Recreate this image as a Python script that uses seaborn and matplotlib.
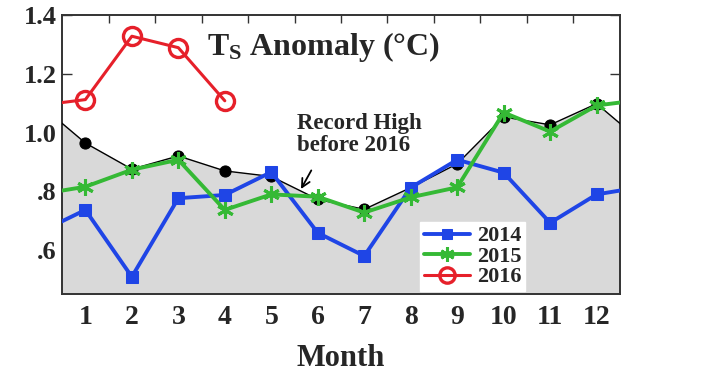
import matplotlib
matplotlib.use("Agg")
import matplotlib.pyplot as plt
import seaborn as sns
import pandas as pd
import numpy as np

# ---- data ----
months = [1, 2, 3, 4, 5, 6, 7, 8, 9, 10, 11, 12]
record_high = [0.965, 0.876, 0.921, 0.870, 0.851, 0.773, 0.739, 0.813, 0.894, 1.054, 1.027, 1.099]
ts_2014 = [0.737, 0.509, 0.777, 0.788, 0.866, 0.659, 0.580, 0.813, 0.908, 0.864, 0.693, 0.790]
ts_2015 = [0.816, 0.874, 0.908, 0.737, 0.790, 0.782, 0.728, 0.780, 0.814, 1.069, 1.004, 1.093]
ts_2016 = [1.113, 1.329, 1.290, 1.109]
dec_2013 = 0.66
ytick_vals = [0.6, 0.8, 1.0, 1.2, 1.4]
ytick_labels = [".6", ".8", "1.0", "1.2", "1.4"]

sns.set_theme(style="white")
plt.rcParams["font.family"] = ["Liberation Serif", "DejaVu Serif"]
plt.rcParams["font.weight"] = "bold"
plt.rcParams["mathtext.fontset"] = "custom"
plt.rcParams["mathtext.rm"] = "Liberation Serif:bold"
plt.rcParams["mathtext.bf"] = "Liberation Serif:bold"
plt.rcParams["mathtext.it"] = "Liberation Serif:bold"

fig = plt.figure(figsize=(7.06, 3.85), dpi=100)
ax = fig.add_axes([0.088, 0.236, 0.790, 0.724])

# extended series (previous December at x=0, next January at x=13)
x_ext = [0] + months + [13]
rec_df = pd.DataFrame({"x": x_ext, "y": [record_high[-1]] + record_high + [record_high[0]]})
d14 = pd.DataFrame({"x": x_ext, "y": [dec_2013] + ts_2014 + [ts_2015[0]]})
d15 = pd.DataFrame({"x": x_ext, "y": [ts_2014[-1]] + ts_2015 + [ts_2016[0]]})
d16 = pd.DataFrame({"x": [0] + months[:len(ts_2016)], "y": [ts_2015[-1]] + ts_2016})

ax.fill_between(rec_df["x"], rec_df["y"], 0.3, color="#d9d9d9", zorder=1)
sns.lineplot(data=rec_df, x="x", y="y", ax=ax, color="black", lw=1.0,
             marker="o", markersize=8, markeredgecolor="black", zorder=3, legend=False)

sns.lineplot(data=d14, x="x", y="y", ax=ax, color="#1f45e6", lw=2.8, marker="s",
             markersize=8, markeredgecolor="#1f45e6", label="2014", zorder=4)
sns.lineplot(data=d15, x="x", y="y", ax=ax, color="#35b935", lw=2.8, marker=(6, 2, 0),
             markersize=12, markeredgewidth=2.2, markeredgecolor="#35b935", label="2015", zorder=5)
sns.lineplot(data=d16, x="x", y="y", ax=ax, color="#e6202a", lw=2.2, marker="o",
             markersize=13, markerfacecolor="none", markeredgewidth=2.4,
             markeredgecolor="#e6202a", label="2016", zorder=6)

ax.set_xlim(0.5, 12.5)
ax.set_ylim(0.45, 1.4)
ax.set_xticks(months)
ax.set_xticklabels([str(m) for m in months], fontsize=20, fontweight="bold")
ax.set_xticks(np.arange(1.5, 12.0, 1.0), minor=True)
ax.tick_params(axis="x", which="major", length=0, pad=8)
ax.tick_params(axis="x", which="minor", direction="in", length=6, width=1,
               top=True, bottom=True, color="#333333")
ax.set_yticks(ytick_vals)
ax.set_yticklabels(ytick_labels, fontsize=19, fontweight="bold")
ax.tick_params(axis="y", direction="in", length=7, width=1, left=True, right=True,
               color="#333333", pad=4)
ax.set_xlabel("Month", fontsize=22, fontweight="bold", labelpad=10)
ax.set_ylabel("")
for sp in ax.spines.values():
    sp.set_color("#333333")
    sp.set_linewidth(1.4)

ax.text(0.26, 0.857, r"$\mathbf{T_S}$ Anomaly (°C)", transform=ax.transAxes,
        fontsize=23, fontweight="bold", va="baseline", ha="left")
ax.text(0.421, 0.65, "Record High\nbefore 2016", transform=ax.transAxes,
        fontsize=16.5, fontweight="bold", va="top", ha="left", linespacing=1.05)
ax.annotate("", xy=(5.61, 0.80), xytext=(5.89, 0.88),
            arrowprops=dict(arrowstyle="->,head_length=0.5,head_width=0.25",
                            color="black", lw=1.3), zorder=7)

leg = ax.legend(loc="lower left", bbox_to_anchor=(0.642, 0.012), frameon=True,
                fancybox=False, framealpha=1, edgecolor="white", facecolor="white",
                prop={"size": 16, "weight": "bold"}, handlelength=2.1, markerscale=0.85,
                labelspacing=0.0, borderpad=0.15, handletextpad=0.3, borderaxespad=0)
leg.set_zorder(10)

fig.savefig("out.png", dpi=100)
